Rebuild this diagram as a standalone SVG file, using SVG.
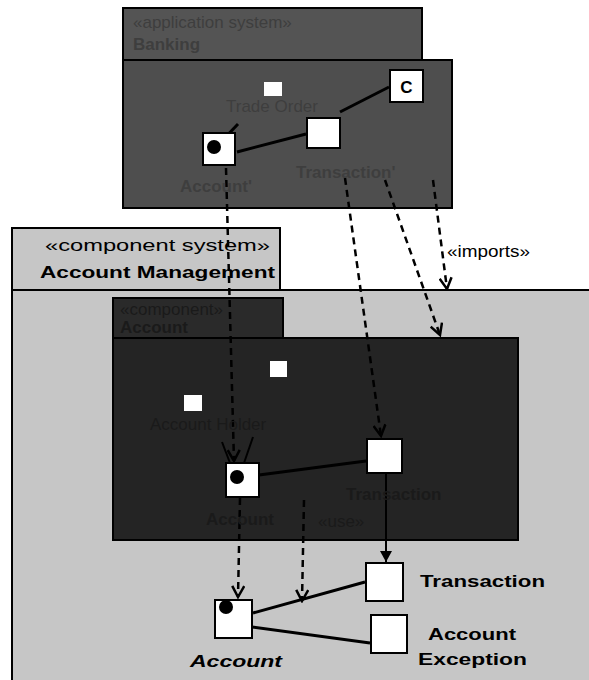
<svg xmlns="http://www.w3.org/2000/svg" width="589" height="680" viewBox="0 0 589 680">
<style>
.lbl{font-family:"Liberation Sans",Arial,sans-serif;font-size:17px;fill:#000;}
.b{font-weight:bold;}
.dt{fill:#3e3e3e;}
.dm{fill:#1a1a1a;}
.box{fill:#fff;stroke:#000;stroke-width:2;}
.sq{fill:#fff;stroke:none;}
.ln{stroke:#000;stroke-width:3;fill:none;}
.dash{stroke:#000;stroke-width:2.5;stroke-dasharray:7,5;fill:none;}
</style>
<defs>
<marker id="v" markerWidth="14" markerHeight="14" refX="12" refY="7" orient="auto" markerUnits="userSpaceOnUse">
<path d="M1,1 L12,7 L1,13" fill="none" stroke="#000" stroke-width="2.5"/>
</marker>
<marker id="tri" markerWidth="14" markerHeight="14" refX="12" refY="7" orient="auto" markerUnits="userSpaceOnUse">
<path d="M1,1 L12,7 L1,13 Z" fill="#000"/>
</marker>
</defs>
<rect width="589" height="680" fill="#fff"/>

<g id="account-management">
<rect x="12" y="228" width="268" height="62" fill="#c6c6c6" stroke="#000" stroke-width="2"/>
<rect x="12" y="290" width="580" height="395" fill="#c6c6c6" stroke="#000" stroke-width="2"/>
<text class="lbl" x="45" y="251" font-size="20" textLength="225" lengthAdjust="spacingAndGlyphs">«component system»</text>
<text class="lbl b" x="40" y="278" font-size="21" textLength="235" lengthAdjust="spacingAndGlyphs">Account Management</text>
</g>

<g id="application-system">
<rect x="123" y="8" width="299" height="52" fill="#545454" stroke="#000" stroke-width="2"/>
<rect x="123" y="60" width="329" height="148" fill="#4e4e4e" stroke="#000" stroke-width="2"/>
<text class="lbl dt" x="133" y="28" font-size="17">«application system»</text>
<text class="lbl b dt" x="133" y="50" font-size="18">Banking</text>
</g>

<g id="component-frame">
<rect x="113" y="298" width="170" height="40" fill="#2a2a2a" stroke="#000" stroke-width="2"/>
<rect x="113" y="338" width="405" height="202" fill="#242424" stroke="#000" stroke-width="2"/>
<text class="lbl dm" x="120" y="315" font-size="15">«component»</text>
<text class="lbl b dm" x="120" y="333" font-size="16">Account</text>
</g>

<g id="connectors">
<line class="ln" x1="389" y1="87" x2="340" y2="112"/>
<line class="ln" x1="218" y1="145" x2="238" y2="124"/>
<line class="ln" x1="237" y1="152" x2="306" y2="134"/>
<line class="ln" x1="259" y1="475" x2="366" y2="461"/>
<line x1="230" y1="463" x2="222" y2="442" stroke="#000" stroke-width="2"/>
<line x1="244" y1="463" x2="253" y2="437" stroke="#000" stroke-width="2"/>
<line class="ln" x1="253" y1="613" x2="365" y2="582"/>
<line class="ln" x1="252" y1="627" x2="370" y2="643"/>
<line class="dash" x1="226" y1="168" x2="234" y2="461" marker-end="url(#v)"/>
<line class="dash" x1="345" y1="178" x2="381" y2="436" marker-end="url(#v)"/>
<line class="dash" x1="385" y1="180" x2="440" y2="335" marker-end="url(#v)"/>
<line class="dash" x1="433" y1="180" x2="447" y2="289" marker-end="url(#v)"/>
<line class="dash" x1="240" y1="498" x2="238" y2="597" marker-end="url(#v)"/>
<line class="dash" x1="304" y1="500" x2="302" y2="601" marker-end="url(#v)"/>
<line x1="386" y1="474" x2="386" y2="562" stroke="#000" stroke-width="2" marker-end="url(#tri)"/>
<text class="lbl" x="447" y="257" font-size="16" textLength="83" lengthAdjust="spacingAndGlyphs">«imports»</text>
</g>

<g id="top-small">
<rect class="sq" x="264" y="82" width="18" height="14"/>
<text class="lbl dt" x="226" y="112" font-size="15">Trade Order</text>
</g>
<g id="top-c">
<rect class="box" x="390" y="70" width="33" height="32"/>
<text class="lbl b" x="406.5" y="93" text-anchor="middle" font-size="18">C</text>
</g>
<g id="top-account">
<rect class="box" x="203" y="133" width="32" height="32"/>
<circle cx="214" cy="147" r="7" fill="#000"/>
<text class="lbl b dt" x="180" y="192" font-size="17">Account'</text>
</g>
<g id="top-transaction">
<rect class="box" x="307" y="118" width="33" height="30"/>
<text class="lbl b dt" x="296" y="178" font-size="17">Transaction'</text>
</g>

<g id="mid-small1">
<rect class="sq" x="270" y="361" width="17" height="16"/>
</g>
<g id="mid-small2">
<rect class="sq" x="184" y="395" width="18" height="16"/>
<text class="lbl dm" x="150" y="430" font-size="15">Account Holder</text>
</g>
<g id="mid-account">
<rect class="box" x="226" y="463" width="33" height="34"/>
<circle cx="237" cy="477" r="7" fill="#000"/>
<text class="lbl b dm" x="206" y="525" font-size="17">Account</text>
</g>
<g id="mid-transaction">
<rect class="box" x="367" y="439" width="35" height="34"/>
<text class="lbl b dm" x="346" y="500" font-size="17">Transaction</text>
<text class="lbl dm" x="318" y="527" font-size="13">«use»</text>
</g>

<g id="account">
<rect class="box" x="215" y="600" width="37" height="38"/>
<circle cx="226" cy="607" r="7" fill="#000"/>
<text class="lbl b" x="190" y="667" font-size="21" font-style="italic" textLength="92" lengthAdjust="spacingAndGlyphs">Account</text>
</g>
<g id="transaction">
<rect class="box" x="366" y="563" width="37" height="38"/>
<text class="lbl b" x="420" y="587" font-size="21" textLength="125" lengthAdjust="spacingAndGlyphs">Transaction</text>
</g>
<g id="account-exception">
<rect class="box" x="371" y="615" width="36" height="38"/>
<text class="lbl b" x="428" y="640" font-size="21" textLength="88" lengthAdjust="spacingAndGlyphs">Account</text>
<text class="lbl b" x="418" y="665" font-size="21" textLength="109" lengthAdjust="spacingAndGlyphs">Exception</text>
</g>
</svg>
